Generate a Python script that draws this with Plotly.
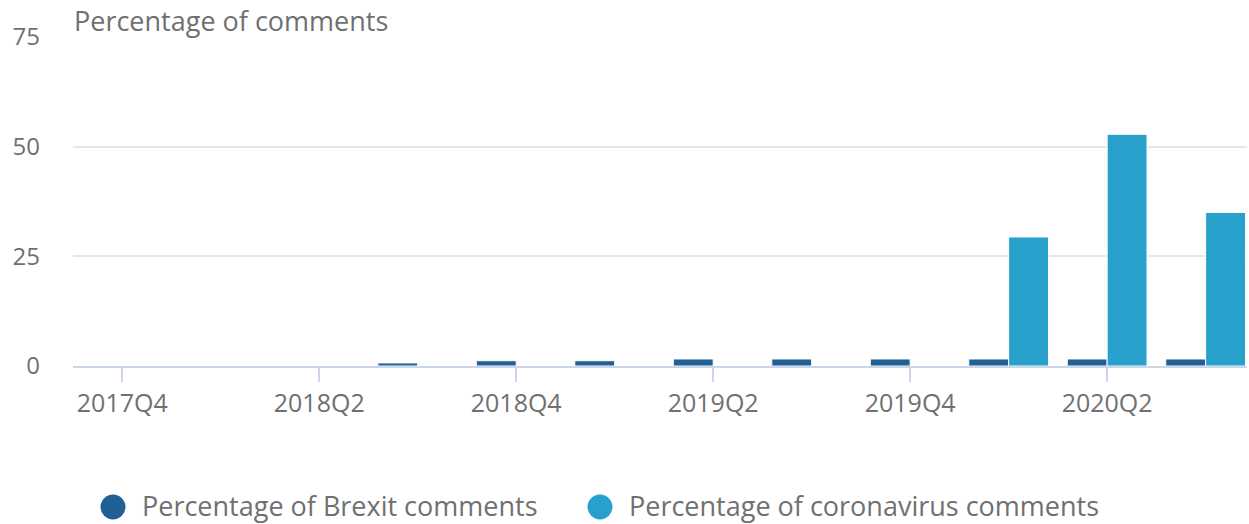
import plotly.graph_objects as go

categories = ["2017Q4", "2018Q1", "2018Q2", "2018Q3", "2018Q4", "2019Q1",
              "2019Q2", "2019Q3", "2019Q4", "2020Q1", "2020Q2", "2020Q3"]
brexit = [0, 0, 0, 0.7, 1.2, 1.2, 1.6, 1.6, 1.6, 1.6, 1.6, 1.6]
coronavirus = [0, 0, 0, 0, 0, 0, 0, 0, 0, 29.4, 52.8, 35.0]
tick_labels = categories[::2]
y_ticks = [0, 25, 50, 75]

names = ["Percentage of Brexit comments", "Percentage of coronavirus comments"]
colors = ["#206095", "#27a0cc"]
FONT = "Open Sans"
GREY = "#707070"

W, H = 1249, 524
ML, MR, MT, MB = 73, 2, 36, 158
PW, PH = W - ML - MR, H - MT - MB

fig = go.Figure()
for vals, name, col in zip([brexit, coronavirus], names, colors):
    fig.add_trace(go.Bar(x=categories, y=vals, name=name, marker_color=col,
                         marker_line_color="white", marker_line_width=1,
                         showlegend=False))

# custom legend (large circles + labels); positions given in window pixels
def px_x(p):
    return (p - ML) / PW

def px_y(p):
    return (H - MB - p) / PH

shapes, annots = [], []
legend_x = [113, 600]
legend_y = 507
r = 12.5
for name, col, cx in zip(names, colors, legend_x):
    shapes.append(dict(type="circle", xref="paper", yref="paper",
                       x0=px_x(cx - r), x1=px_x(cx + r),
                       y0=px_y(legend_y + r), y1=px_y(legend_y - r),
                       fillcolor=col, line=dict(width=0)))
    annots.append(dict(text=name, xref="paper", yref="paper",
                       x=px_x(cx + 27), y=px_y(legend_y - 1.5), xanchor="left", yanchor="middle",
                       showarrow=False, font=dict(size=27, color=GREY, family=FONT)))
annots.append(dict(text="Percentage of comments", xref="paper", yref="paper",
                   x=px_x(72), y=1, xanchor="left", yanchor="middle", yshift=16,
                   showarrow=False, font=dict(size=27, color=GREY, family=FONT)))

fig.update_layout(
    width=W, height=H,
    margin=dict(l=ML, r=MR, t=MT, b=MB),
    paper_bgcolor="white", plot_bgcolor="white",
    barmode="group", bargap=0.19, bargroupgap=0,
    font=dict(family=FONT, color=GREY),
    showlegend=False,
    shapes=shapes,
    annotations=annots,
)
fig.update_xaxes(type="category", range=[-0.5, 11.42], automargin=False,
                 tickmode="array", tickvals=tick_labels, ticktext=tick_labels,
                 ticks="outside", ticklen=14, tickcolor="#ccd6eb", tickwidth=1.5,
                 showline=True, linecolor="#ccd6eb", linewidth=2,
                 showgrid=False, tickfont=dict(size=25, color=GREY, family=FONT))
fig.update_yaxes(range=[0, 75.2], tickvals=y_ticks, showgrid=True, gridcolor="#e6e6e6",
                 gridwidth=1.5, zeroline=False, showline=False, ticks="", automargin=False,
                 ticklabelstandoff=32, tickfont=dict(size=24, color=GREY, family=FONT))

fig.write_html("out.html", config={"displayModeBar": False},
               post_script="document.body.style.margin='0';")
